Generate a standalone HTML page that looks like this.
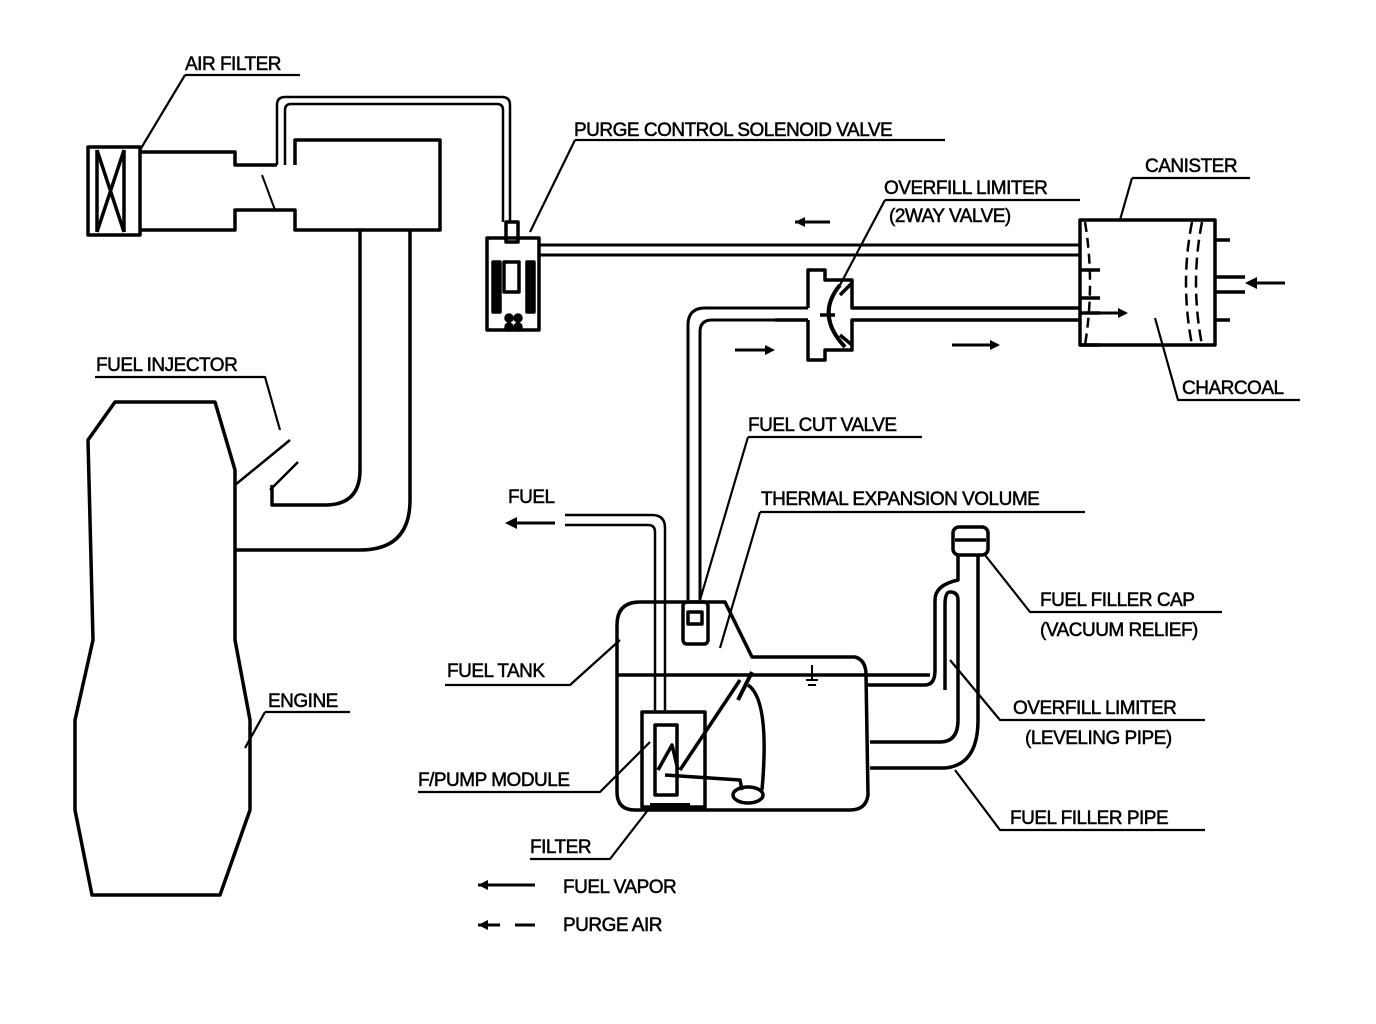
<!DOCTYPE html>
<html><head><meta charset="utf-8"><style>
html,body{margin:0;padding:0;background:#fff}
svg{display:block}
text{font-family:"Liberation Sans",sans-serif;font-size:19px;fill:#000;stroke:#000;stroke-width:0.5px;letter-spacing:-0.5px}
</style></head><body>
<svg width="1376" height="1024" viewBox="0 0 1376 1024" xmlns="http://www.w3.org/2000/svg">
<g fill="none" stroke="#000" stroke-width="3.5" stroke-linejoin="round">
<rect x="88" y="147" width="52" height="88"/>
<line x1="97" y1="150" x2="97" y2="232"/><line x1="124" y1="150" x2="124" y2="232"/>
<path d="M97 150 L124 232 M124 150 L97 232"/>
<path d="M140 152 H235 V165 H277 M140 230 H235 V210 H295 V230 H440 V140 H295 V165"/>
<path d="M262 175 L275 210" stroke-width="2"/>
<path d="M277 165 V105 Q277 97 285 97 H502 Q510 97 510 105 V222 M285 165 V110 Q285 104 291 104 H497 Q503 104 503 110 V222" stroke-width="2.5"/>
<path d="M360 230 V470 Q360 505 325 505 H272 V485 M410 230 V500 Q410 550 360 550 H235"/>
<path d="M235 485 L290 440 M270 490 L298 462" stroke-width="2.5"/>
<path d="M115 402 H215 L235 470 V640 L250 720 V810 L220 895 H92 L75 810 V720 L93 640 L88 440 Z"/>
<rect x="506" y="222" width="12" height="20"/>
<rect x="487" y="238" width="52" height="92"/>
<rect x="493" y="262" width="7" height="50" fill="#000"/><rect x="527" y="262" width="7" height="50" fill="#000"/>
<rect x="504" y="262" width="15" height="30"/>
<circle cx="509" cy="318" r="3" fill="#000"/><circle cx="518" cy="318" r="3" fill="#000"/><circle cx="509" cy="327" r="3" fill="#000"/><circle cx="518" cy="327" r="3" fill="#000"/>
<path d="M539 245 H1080 M539 255 H1080" stroke-width="3"/>
<path d="M1080 220 H1215 V345 H1080 Z"/>
<path d="M1085 222 Q1095 283 1085 345" stroke-dasharray="10 6" stroke-width="2.5"/>
<path d="M1192 222 Q1180 283 1192 345 M1202 222 Q1190 283 1202 345" stroke-dasharray="12 6" stroke-width="2.5"/>
<path d="M1080 270 H1100 M1080 298 H1100 M1080 313 H1100 M1080 345 H1100 M1215 240 H1230 M1215 320 H1230 M1215 277 H1245 M1215 292 H1245"/>
<path d="M808 308 V270 H825 V280 H852 V308 H1080 M808 320 H775 M808 320 V360 H825 V350 H852 V320 H1080"/>
<path d="M840 285 Q815 315 845 347" stroke-width="4"/>
<path d="M852 283 L840 295 M852 345 L840 335 M820 315 H835"/>
<path d="M808 308 H705 Q688 308 688 325 V600 M808 320 H712 Q700 320 700 332 V600" stroke-width="3"/>
<rect x="683" y="602" width="25" height="42" rx="4"/>
<rect x="688" y="612" width="14" height="12"/>
<path d="M565 515 H652 Q665 515 665 528 V712 M565 525 H648 Q655 525 655 532 V712" stroke-width="2.5"/>
<path d="M640 602 H725 L752 657 H855 Q866 660 866 675 L868 795 Q866 810 850 810 H635 Q617 810 617 792 V625 Q617 602 640 602 Z"/>
<line x1="617" y1="675" x2="930" y2="675"/>
<path d="M866 685 H925 Q935 685 935 670 V600 Q935 585 958 580 V555"/>
<path d="M870 742 H940 Q958 742 958 720 V600 Q958 592 950 592 Q945 592 945 605 V690"/>
<path d="M870 768 H945 Q978 765 978 720 V555"/>
<rect x="953" y="527" width="35" height="28" rx="6"/>
<line x1="955" y1="540" x2="986" y2="540"/>
<rect x="642" y="712" width="63" height="95"/>
<rect x="655" y="725" width="22" height="70"/>
<path d="M658 770 L672 745 L678 770 M680 770 L740 680 M665 775 L740 780 L742 790"/>
<path d="M650 805 H690" stroke-width="4"/>
<ellipse cx="748" cy="795" rx="15" ry="8"/>
<path d="M748 685 Q770 700 762 790"/>
<path d="M738 700 L752 672" stroke-width="4"/>
<path d="M812 665 V680 M806 680 H818 M808 685 H816" stroke-width="2"/>
<g stroke-width="3">
<path d="M795 222 H830 M735 350 H765 M952 345 H990 M1100 313 H1120 M1250 283 H1285 M515 523 H555 M478 885 H535"/>
<path d="M478 925 H500 M515 925 H535"/>
</g>
<g stroke-width="2.2">
<path d="M185 75 H300 M185 75 L140 150"/>
<path d="M575 140 H945 M575 140 L530 232"/>
<path d="M885 200 H1080 M885 200 L840 285"/>
<path d="M1132 178 H1250 M1132 178 L1120 220"/>
<path d="M1155 318 L1178 400 H1300"/>
<path d="M95 377 H265 L280 430"/>
<path d="M265 712 H350 M265 712 L245 748"/>
<path d="M748 437 H922 M748 437 L700 600"/>
<path d="M760 512 H1085 M760 512 L720 648"/>
<path d="M445 685 H570 L620 640"/>
<path d="M985 555 L1030 612 H1222"/>
<path d="M950 660 L1000 720 H1205"/>
<path d="M955 770 L1000 830 H1205"/>
<path d="M418 792 H600 L650 742"/>
<path d="M530 859 H610 L648 810"/>
</g>
</g>
<g fill="#000">
<path d="M478 885 l10 -5 v10 Z M478 925 l10 -5 v10 Z M795 222 l10 -5 v10 Z M505 523 l12 -6 v12 Z M1245 283 l12 -6 v12 Z M775 350 l-10 -5 v10 Z M1000 345 l-10 -5 v10 Z M1128 313 l-10 -5 v10 Z"/>
</g>
<text x="185" y="70">AIR FILTER</text>
<text x="574" y="136">PURGE CONTROL SOLENOID VALVE</text>
<text x="1145" y="172">CANISTER</text>
<text x="884" y="194">OVERFILL LIMITER</text>
<text x="889" y="222">(2WAY VALVE)</text>
<text x="1182" y="394">CHARCOAL</text>
<text x="96" y="371">FUEL INJECTOR</text>
<text x="748" y="431">FUEL CUT VALVE</text>
<text x="508" y="503">FUEL</text>
<text x="761" y="505">THERMAL EXPANSION VOLUME</text>
<text x="1040" y="606">FUEL FILLER CAP</text>
<text x="1040" y="636">(VACUUM RELIEF)</text>
<text x="447" y="677">FUEL TANK</text>
<text x="268" y="707">ENGINE</text>
<text x="1013" y="714">OVERFILL LIMITER</text>
<text x="1025" y="744">(LEVELING PIPE)</text>
<text x="418" y="786">F/PUMP MODULE</text>
<text x="1010" y="824">FUEL FILLER PIPE</text>
<text x="530" y="853">FILTER</text>
<text x="563" y="893">FUEL VAPOR</text>
<text x="563" y="931">PURGE AIR</text>
</svg>
</body></html>
